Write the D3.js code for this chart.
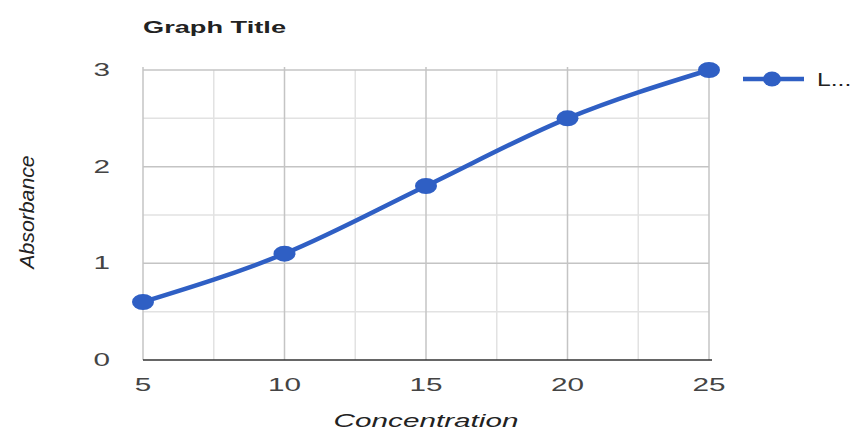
<!DOCTYPE html>
<html>
<head>
<meta charset="utf-8">
<script src="https://cdn.jsdelivr.net/npm/d3@7"></script>
<style>
  html, body { margin: 0; padding: 0; background: #fff; }
  svg { display: block; }
  text { font-family: "Liberation Sans", Arial, sans-serif; }
</style>
</head>
<body>
<svg id="chart" width="852" height="430"></svg>
<script>
// Calibration series: absorbance readings against concentration
const concentration = [5, 10, 15, 20, 25];
const absorbance = [0.6, 1.1, 1.8, 2.5, 3.0];
const xTicks = [5, 10, 15, 20, 25];
const yTicks = [0, 1, 2, 3];
const xMinorTicks = [7.5, 12.5, 17.5, 22.5];
const yMinorTicks = [0.5, 1.5, 2.5];
const seriesName = "L...";
const titleText = "Graph Title";
const xTitle = "Concentration";
const yTitle = "Absorbance";

const W = 852, H = 430;
const plot = { left: 143, right: 709, top: 70, bottom: 360 };
const SX = 1.65; // horizontal stretch applied to the wide labels

const svg = d3.select("#chart");

const x = d3.scaleLinear().domain([5, 25]).range([plot.left, plot.right]);
const y = d3.scaleLinear().domain([0, 3]).range([plot.bottom, plot.top]);

// stretched text helper: draws text at (px,py) scaled horizontally
function stretchedText(g, px, py, str, opts) {
  const t = g.append("text")
    .attr("transform", `translate(${px},${py}) scale(${opts.sx || SX},${opts.sy || 1})`)
    .attr("text-anchor", opts.anchor || "start")
    .attr("font-size", opts.size || 18)
    .attr("fill", opts.fill || "#444")
    .text(str);
  if (opts.weight) t.attr("font-weight", opts.weight);
  if (opts.style) t.attr("font-style", opts.style);
  return t;
}

const grid = svg.append("g");

// minor gridlines
grid.selectAll("line.xminor").data(xMinorTicks).join("line")
  .attr("x1", d => x(d)).attr("x2", d => x(d))
  .attr("y1", plot.top).attr("y2", plot.bottom)
  .attr("stroke", "#e2e2e2").attr("stroke-width", 1.5);
grid.selectAll("line.yminor").data(yMinorTicks).join("line")
  .attr("x1", plot.left).attr("x2", plot.right)
  .attr("y1", d => y(d)).attr("y2", d => y(d))
  .attr("stroke", "#e2e2e2").attr("stroke-width", 1.5);

// major gridlines
grid.selectAll("line.xmajor").data(xTicks).join("line")
  .attr("x1", d => x(d)).attr("x2", d => x(d))
  .attr("y1", plot.top - 3).attr("y2", plot.bottom)
  .attr("stroke", "#c4c4c4").attr("stroke-width", 1.5);
grid.selectAll("line.ymajor").data(yTicks.filter(d => d > 0)).join("line")
  .attr("x1", plot.left).attr("x2", plot.right)
  .attr("y1", d => y(d)).attr("y2", d => y(d))
  .attr("stroke", "#c4c4c4").attr("stroke-width", 1.5);

// baseline
svg.append("line")
  .attr("x1", plot.left).attr("x2", plot.right + 3)
  .attr("y1", y(0)).attr("y2", y(0))
  .attr("stroke", "#333").attr("stroke-width", 1.5);

// tick labels
const labels = svg.append("g");
yTicks.forEach(d => {
  stretchedText(labels, 110, y(d) + 6, String(d), { anchor: "end", size: 18, fill: "#444" });
});
xTicks.forEach(d => {
  stretchedText(labels, x(d), 391, String(d), { anchor: "middle", size: 18, fill: "#444" });
});

// title and axis titles
stretchedText(svg, plot.left, 33, titleText, { size: 17, weight: "bold", fill: "#222", sx: 1.6 });
stretchedText(svg, (plot.left + plot.right) / 2, 427, xTitle, { anchor: "middle", size: 18, style: "italic", fill: "#222" });
svg.append("text")
  .attr("transform", `translate(34,212) rotate(-90) scale(1.25,1.15)`)
  .attr("text-anchor", "middle")
  .attr("font-size", 17)
  .attr("font-style", "italic")
  .attr("fill", "#222")
  .text(yTitle);

// series line
const pts = concentration.map((c, i) => [c, absorbance[i]]);
const line = d3.line().x(d => x(d[0])).y(d => y(d[1])).curve(d3.curveMonotoneX);
svg.append("path")
  .datum(pts)
  .attr("d", line)
  .attr("fill", "none")
  .attr("stroke", "#2f5fc4")
  .attr("stroke-width", 4.5);

svg.selectAll("ellipse.pt").data(pts).join("ellipse")
  .attr("cx", d => x(d[0])).attr("cy", d => y(d[1]))
  .attr("rx", 11).attr("ry", 8)
  .attr("fill", "#2f5fc4");

// legend
const lg = svg.append("g");
lg.append("line").attr("x1", 743).attr("x2", 804).attr("y1", 79).attr("y2", 79)
  .attr("stroke", "#2f5fc4").attr("stroke-width", 4.5);
lg.append("ellipse").attr("cx", 772).attr("cy", 79).attr("rx", 9).attr("ry", 7.5)
  .attr("fill", "#2f5fc4");
stretchedText(lg, 817, 86, seriesName, { size: 19, fill: "#222", sx: 1.3 });
</script>
</body>
</html>
